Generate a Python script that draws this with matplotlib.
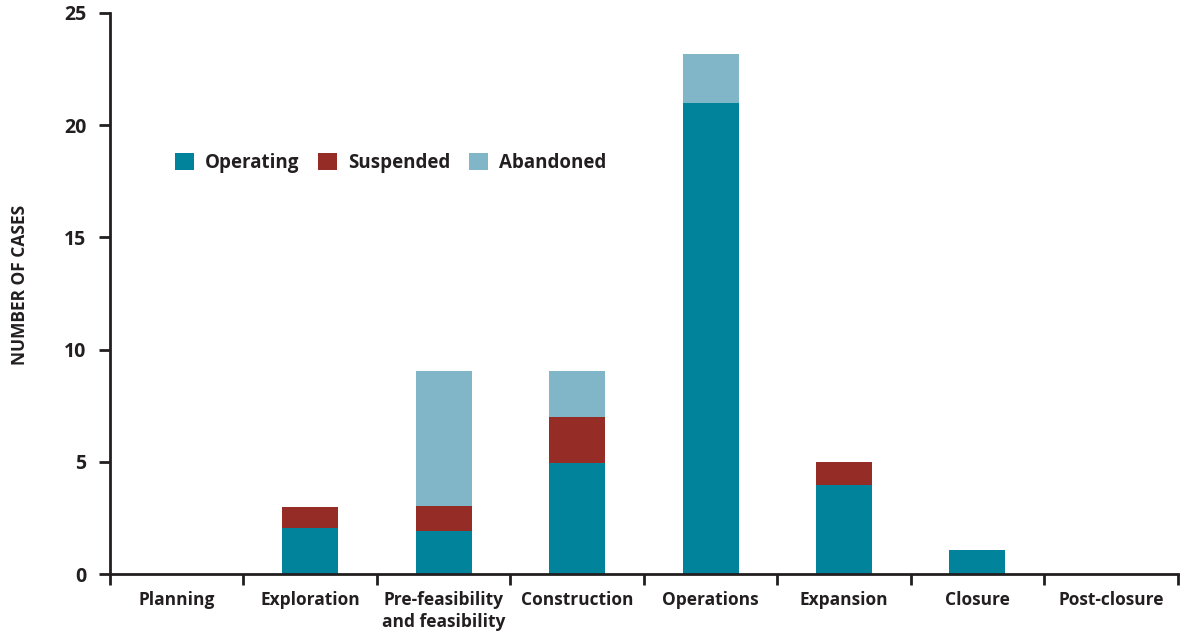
import matplotlib.pyplot as plt
import numpy as np

plt.rcParams['font.family'] = ['Open Sans', 'DejaVu Sans']

# stages of the project life cycle
stages = ['Planning', 'Exploration', 'Pre-feasibility\nand feasibility', 'Construction',
          'Operations', 'Expansion', 'Closure', 'Post-closure']

# number of cases by status
operating = [0, 2.05, 1.9, 4.95, 21, 3.95, 1.05, 0]
suspended = [0, 0.95, 1.15, 2.05, 0, 1.05, 0, 0]
abandoned = [0, 0, 6.0, 2.05, 2.15, 0, 0, 0]

c_op = '#00839b'
c_su = '#952d26'
c_ab = '#80b6c8'
ink = '#231f20'

fig = plt.figure(figsize=(11.8, 6.34), dpi=100)
ax = fig.add_axes([0.0932, 0.0946, 0.9048, 0.885])

x = np.arange(len(stages))
w = 0.42
op = np.array(operating)
su = np.array(suspended)
ab = np.array(abandoned)

ax.bar(x, op, w, color=c_op, label='Operating')
ax.bar(x, su, w, bottom=op, color=c_su, label='Suspended')
ax.bar(x, ab, w, bottom=op + su, color=c_ab, label='Abandoned')

ax.set_xlim(-0.5, len(stages) - 0.5)
ax.set_ylim(0, 25)
ax.set_yticks([0, 5, 10, 15, 20, 25])

ax.set_xticks(x)
ax.set_xticklabels(stages, fontsize=12.5, fontweight='bold', color=ink, linespacing=1.3)
ax.set_xticks(np.arange(len(stages) + 1) - 0.5, minor=True)
ax.tick_params(axis='x', which='major', length=0, pad=12)
ax.tick_params(axis='x', which='minor', length=8, width=2, color=ink, direction='out')
ax.tick_params(axis='y', length=8, width=2, color=ink, labelsize=14, pad=9)
for lab in ax.get_yticklabels():
    lab.set_fontweight('bold')
    lab.set_color(ink)

for s in ['top', 'right']:
    ax.spines[s].set_visible(False)
for s in ['left', 'bottom']:
    ax.spines[s].set_linewidth(2)
    ax.spines[s].set_color(ink)

ax.set_ylabel('NUMBER OF CASES', fontsize=12.5, fontweight='bold', color=ink)
ax.yaxis.set_label_coords(-0.076, 0.515)

leg = ax.legend(loc='center left', bbox_to_anchor=(0.045, 0.732), ncol=3, frameon=False,
                prop={'size': 13.5, 'weight': 'bold'}, handlelength=1.0, handleheight=1.0,
                handletextpad=0.6, columnspacing=1.0)
for t in leg.get_texts():
    t.set_color(ink)

fig.savefig('out.png', dpi=100)
